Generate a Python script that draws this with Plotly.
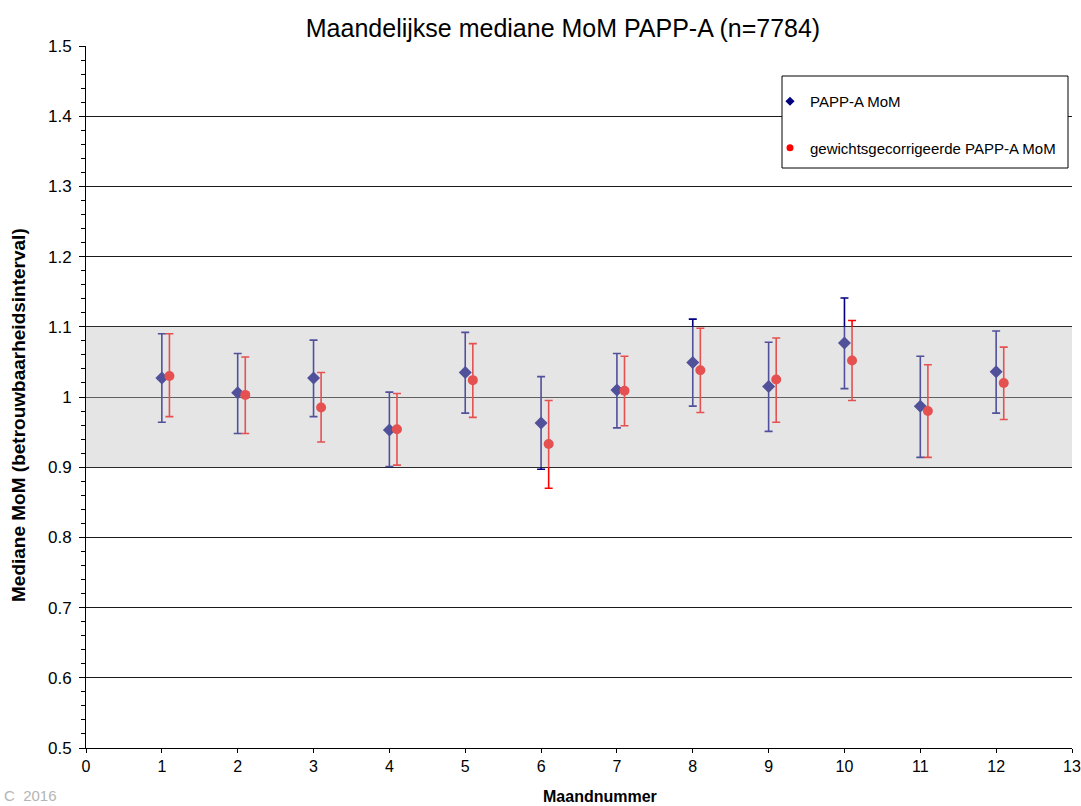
import plotly.graph_objects as go
import numpy as np

months = [1, 2, 3, 4, 5, 6, 7, 8, 9, 10, 11, 12]
red_offset = 0.1

papp_median = [1.027, 1.006, 1.027, 0.953, 1.035, 0.963, 1.010, 1.049, 1.015, 1.077, 0.987, 1.036]
papp_upper = [1.090, 1.062, 1.081, 1.007, 1.092, 1.029, 1.062, 1.111, 1.078, 1.141, 1.058, 1.094]
papp_lower = [0.964, 0.948, 0.972, 0.901, 0.977, 0.897, 0.956, 0.987, 0.951, 1.012, 0.914, 0.977]

corr_median = [1.030, 1.003, 0.985, 0.954, 1.024, 0.933, 1.009, 1.038, 1.025, 1.052, 0.980, 1.020]
corr_upper = [1.090, 1.057, 1.035, 1.005, 1.076, 0.995, 1.058, 1.098, 1.084, 1.109, 1.046, 1.071]
corr_lower = [0.972, 0.948, 0.936, 0.903, 0.971, 0.870, 0.959, 0.978, 0.964, 0.995, 0.914, 0.968]

band_low, band_high = 0.9, 1.1
y_ticks = [0.5, 0.6, 0.7, 0.8, 0.9, 1.0, 1.1, 1.2, 1.3, 1.4, 1.5]
y_tick_text = ["0.5", "0.6", "0.7", "0.8", "0.9", "1", "1.1", "1.2", "1.3", "1.4", "1.5"]
x_ticks = list(range(0, 14))

FONT = "Arial, Liberation Sans, sans-serif"
NAVY = "#000080"
RED = "#FF0000"

pm = np.array(papp_median); cm = np.array(corr_median)

fig = go.Figure()
fig.add_trace(go.Scatter(
    x=months, y=papp_median, mode="markers", name="PAPP-A MoM",
    showlegend=False,
    marker=dict(symbol="diamond", size=10, color=NAVY),
    error_y=dict(type="data", symmetric=False,
                 array=list(np.array(papp_upper) - pm),
                 arrayminus=list(pm - np.array(papp_lower)),
                 color=NAVY, thickness=1.6, width=4),
))
fig.add_trace(go.Scatter(
    x=[m + red_offset for m in months], y=corr_median, mode="markers",
    name="gewichtsgecorrigeerde PAPP-A MoM", showlegend=False,
    marker=dict(symbol="circle", size=10, color=RED),
    error_y=dict(type="data", symmetric=False,
                 array=list(np.array(corr_upper) - cm),
                 arrayminus=list(cm - np.array(corr_lower)),
                 color=RED, thickness=1.6, width=4),
))
# legend entries (small markers as in the reference legend)
fig.add_trace(go.Scatter(x=[None], y=[None], mode="markers", name="PAPP-A MoM",
                         legendgroup="a",
                         marker=dict(symbol="diamond", size=7, color=NAVY)))
fig.add_trace(go.Scatter(x=[None], y=[None], mode="markers",
                         name="gewichtsgecorrigeerde PAPP-A MoM", legendgroup="b",
                         marker=dict(symbol="circle", size=7, color=RED)))

L, R, T, B = 86, 9, 46, 58
W, H = 1081, 806
pw = W - L - R
ph = H - T - B


def px_x(p):
    return (p - L) / pw


def px_y(p):
    return (H - B - p) / ph


fig.add_shape(type="rect", xref="paper", yref="y", x0=0, x1=1,
              y0=band_low, y1=band_high, layer="above",
              fillcolor="rgba(192,192,192,0.42)", line=dict(width=0))
# legend frame
fig.add_shape(type="rect", xref="paper", yref="paper",
              x0=px_x(782), x1=px_x(1068), y0=px_y(168), y1=px_y(76),
              layer="above", fillcolor="white", line=dict(color="black", width=1))

fig.update_layout(
    width=W, height=H,
    margin=dict(l=L, r=R, t=T, b=B, autoexpand=False),
    paper_bgcolor="white", plot_bgcolor="white",
    font=dict(family=FONT, color="black", size=16),
    title=dict(text="Maandelijkse mediane MoM PAPP-A (n=7784)",
               x=563 / W, xref="container", xanchor="center",
               y=1 - 28 / H, yref="container", yanchor="middle",
               font=dict(size=25, family=FONT, color="black")),
    showlegend=True,
    legend=dict(x=px_x(770), xanchor="left",
                y=px_y(85), yanchor="top",
                bgcolor="rgba(0,0,0,0)", borderwidth=0,
                font=dict(size=15, family=FONT, color="black"),
                traceorder="grouped", tracegroupgap=24,
                itemwidth=30),
    xaxis=dict(range=[0, 13], tickvals=x_ticks, ticktext=[str(v) for v in x_ticks],
               showgrid=False, zeroline=False, showline=True, linecolor="black",
               linewidth=1, ticks="outside", ticklen=4, tickcolor="black",
               automargin=False,
               tickfont=dict(size=16, family=FONT)),
    yaxis=dict(range=[0.5, 1.5], tickvals=y_ticks, ticktext=y_tick_text,
               showgrid=True, gridcolor="#1a1a1a", gridwidth=1, zeroline=False,
               showline=True, linecolor="black", linewidth=1,
               ticks="outside", ticklen=6, tickcolor="black",
               automargin=False, ticklabelstandoff=4,
               tickfont=dict(size=17, family=FONT),
               minor=dict(dtick=0.02, ticks="outside", ticklen=4,
                          tickcolor="black", showgrid=False)),
)

fig.add_annotation(text="<b>Maandnummer</b>", xref="paper", yref="paper",
                   x=px_x(600), y=px_y(797), xanchor="center",
                   yanchor="middle", showarrow=False,
                   font=dict(size=16, family=FONT, color="black"))
fig.add_annotation(text="<b>Mediane MoM (betrouwbaarheidsinterval)</b>",
                   xref="paper", yref="paper", textangle=-90,
                   x=px_x(18), y=px_y(415), xanchor="center",
                   yanchor="middle", showarrow=False,
                   font=dict(size=19, family=FONT, color="black"))
fig.add_annotation(text="C  2016", xref="paper", yref="paper",
                   x=px_x(2), y=px_y(795), xanchor="left",
                   yanchor="middle", showarrow=False,
                   font=dict(size=15, family=FONT, color="#b4b4b4"))

fig.write_html("out.html")
